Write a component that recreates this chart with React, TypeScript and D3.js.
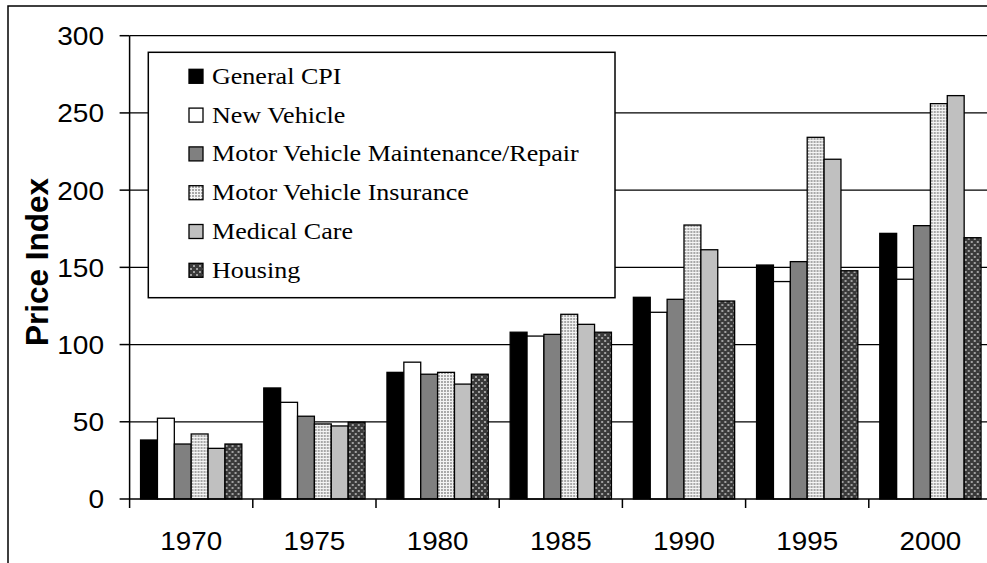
import React from "react";
import * as d3 from "d3";

const years = ["1970", "1975", "1980", "1985", "1990", "1995", "2000"];
const seriesNames = [
  "General CPI",
  "New Vehicle",
  "Motor Vehicle Maintenance/Repair",
  "Motor Vehicle Insurance",
  "Medical Care",
  "Housing",
];
const generalCPI = [38.2, 71.9, 82.0, 108.0, 130.6, 151.5, 172.0];
const newVehicle = [52.3, 62.6, 88.6, 105.5, 120.9, 140.8, 142.3];
const maintenance = [35.6, 53.6, 80.8, 106.6, 129.3, 153.7, 177.0];
const insurance = [42.1, 48.6, 82.0, 119.6, 177.4, 234.2, 256.0];
const medicalCare = [32.8, 47.3, 74.4, 113.1, 161.4, 220.0, 261.2];
const housing = [35.6, 49.7, 80.8, 108.0, 128.2, 147.8, 169.2];
const yTicks = [0, 50, 100, 150, 200, 250, 300];

const seriesValues = [generalCPI, newVehicle, maintenance, insurance, medicalCare, housing];
const fills = ["#000000", "#ffffff", "#808080", "url(#pInsurance)", "#c0c0c0", "url(#pHousing)"];

export default function App() {
  const W = 987;
  const H = 563;
  const left = 129.6;
  const right = 992;
  const y0 = 499;
  const yTop = 35.7;

  const x = d3.scaleBand<string>().domain(years).range([left, right]).paddingInner(0.178).paddingOuter(0.089);
  const xs = d3.scaleBand<number>().domain(d3.range(seriesNames.length)).range([0, x.bandwidth()]).padding(0);
  const y = d3.scaleLinear().domain([0, 300]).range([y0, yTop]);
  const step = x.step();

  const serif = "'Liberation Serif', 'Times New Roman', serif";
  const sans = "'Liberation Sans', Arial, sans-serif";

  const legX = 148.3, legY = 52.3, legW = 466.7, legH = 245.4;

  return (
    <svg width={W} height={H} style={{ position: "fixed", left: 0, top: 0, background: "#fff" }}>
      <defs>
        <pattern id="pInsurance" width="3" height="3" patternUnits="userSpaceOnUse">
          <rect width="3" height="3" fill="#f4f4f4" />
          <rect x="0" y="0" width="2" height="2" fill="#a8a8a8" />
        </pattern>
        <pattern id="pHousing" width="6" height="6" patternUnits="userSpaceOnUse">
          <rect width="6" height="6" fill="#3a3a3a" />
          <rect x="1" y="1" width="2" height="2" fill="#a0a0a0" />
          <rect x="4" y="4" width="2" height="2" fill="#a0a0a0" />
        </pattern>
      </defs>
      <rect x={0} y={0} width={W} height={H} fill="#fff" />
      <rect x={8} y={6} width={1000} height={600} fill="none" stroke="#000" strokeWidth={1.5} />

      {/* gridlines */}
      {yTicks.filter((t) => t > 0).map((t) => (
        <line key={"g" + t} x1={left} x2={right} y1={y(t)} y2={y(t)} stroke="#000" strokeWidth={1.2} />
      ))}

      {/* bars */}
      {years.map((yr, i) => (
        <g key={yr} transform={`translate(${x(yr)},0)`}>
          {seriesValues.map((vals, s) => (
            <rect
              key={s}
              x={xs(s)}
              y={y(vals[i])}
              width={xs.bandwidth()}
              height={y0 - y(vals[i])}
              fill={fills[s]}
              stroke="#000"
              strokeWidth={1.3}
            />
          ))}
        </g>
      ))}

      {/* y axis */}
      <line x1={left} x2={left} y1={yTop} y2={y0} stroke="#000" strokeWidth={1.5} />
      {yTicks.map((t) => (
        <g key={"yt" + t}>
          <line x1={left - 10} x2={left} y1={y(t)} y2={y(t)} stroke="#000" strokeWidth={1.5} />
          <text
            transform={`translate(104,${y(t)}) scale(1.08,1)`}
            dy="0.36em"
            textAnchor="end"
            fontFamily={sans}
            fontSize={26}
            fill="#000"
          >
            {t}
          </text>
        </g>
      ))}

      {/* x axis */}
      <line x1={left} x2={right} y1={y0} y2={y0} stroke="#000" strokeWidth={1.5} />
      {d3.range(years.length + 1).map((k) => (
        <line key={"xt" + k} x1={left + k * step} x2={left + k * step} y1={y0} y2={y0 + 9} stroke="#000" strokeWidth={1.5} />
      ))}
      {years.map((yr) => (
        <text
          key={"xl" + yr}
          transform={`translate(${(x(yr) as number) + x.bandwidth() / 2},550) scale(1.07,1)`}
          textAnchor="middle"
          fontFamily={sans}
          fontSize={26}
          fill="#000"
        >
          {yr}
        </text>
      ))}

      <text transform="translate(48,262) rotate(-90)" textAnchor="middle" fontFamily={sans} fontWeight="bold" fontSize={31.5} fill="#000">
        Price Index
      </text>

      {/* legend */}
      <rect x={legX} y={legY} width={legW} height={legH} fill="#fff" stroke="#000" strokeWidth={1.5} />
      {seriesNames.map((name, s) => {
        const cy = 76.3 + s * 38.8;
        return (
          <g key={"lg" + s}>
            <rect x={189} y={cy - 7} width={14} height={14} fill={fills[s]} stroke="#000" strokeWidth={1.3} />
            <text transform={`translate(212,${cy + 7.5}) scale(1.085,1)`} fontFamily={serif} fontSize={24} fill="#000">
              {name}
            </text>
          </g>
        );
      })}
    </svg>
  );
}
